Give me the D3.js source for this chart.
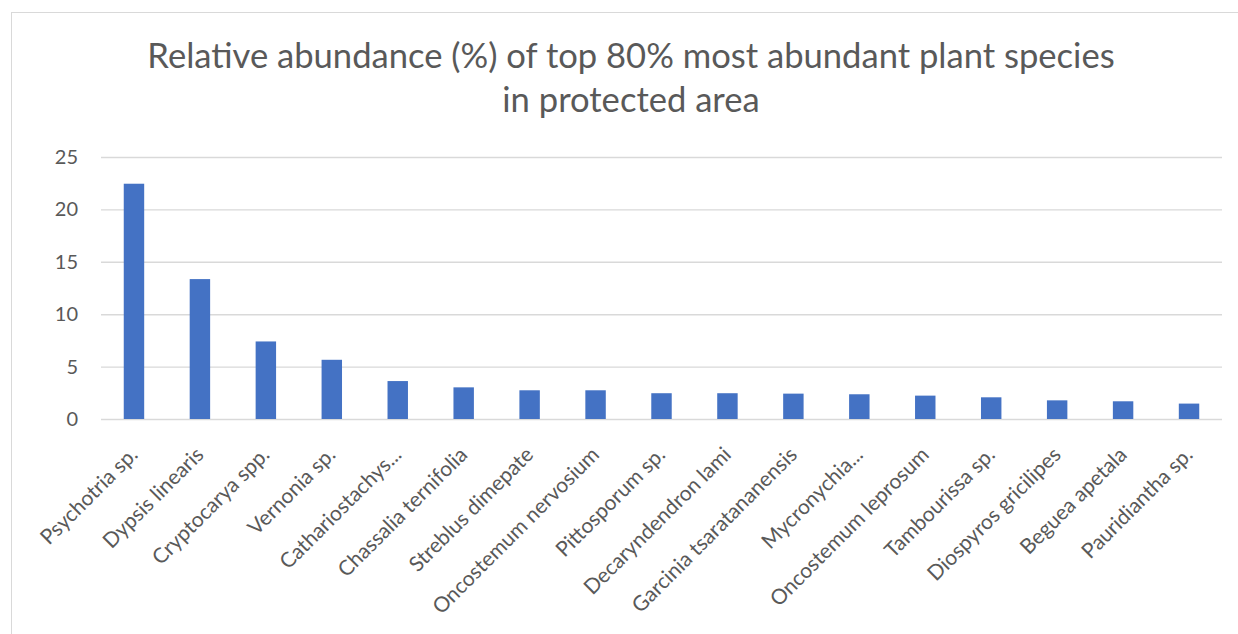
<!DOCTYPE html>
<html>
<head>
<meta charset="utf-8">
<script src="https://cdn.jsdelivr.net/npm/d3@7"></script>
<style>
	body { margin: 0; background: #fff; }
	svg { display: block; font-family: Lato, 'Open Sans', sans-serif; }
</style>
</head>
<body>
<div id="chart"></div>
<script>
/*
*	Chart data
*/
var species = [
	'Psychotria sp.', 'Dypsis linearis', 'Cryptocarya spp.', 'Vernonia sp.',
	'Cathariostachys...', 'Chassalia ternifolia', 'Streblus dimepate',
	'Oncostemum nervosium', 'Pittosporum sp.', 'Decaryndendron lami',
	'Garcinia tsaratananensis', 'Mycronychia...', 'Oncostemum leprosum',
	'Tambourissa sp.', 'Diospyros gricilipes', 'Beguea apetala', 'Pauridiantha sp.'
];
var abundance = [22.45, 13.35, 7.4, 5.65, 3.62, 3.02, 2.74, 2.74, 2.46, 2.46, 2.42, 2.36, 2.23, 2.07, 1.78, 1.69, 1.47];
var yTicks = [0, 5, 10, 15, 20, 25];
var titleLines = ['Relative abundance (%) of top 80% most abundant plant species', 'in protected area'];

/*
*	Drawing
*/
var W = 1238, H = 634;
var plot = { left: 101, right: 1222, top: 157, bottom: 419 };
var font = 'Lato, "Open Sans", sans-serif';

var svg = d3.select('#chart').append('svg')
	.attr('width', W)
	.attr('height', H);

// chart frame, runs off the right and bottom of the picture
svg.append('rect')
	.attr('x', 11.5).attr('y', 12.5)
	.attr('width', W + 20).attr('height', H + 20)
	.attr('fill', '#fff')
	.attr('stroke', '#d9d9d9');

var x = d3.scaleBand()
	.domain(species)
	.range([plot.left, plot.right])
	.paddingInner(0.69)
	.paddingOuter(0.345);

var y = d3.scaleLinear().domain([0, 25]).range([plot.bottom, plot.top]);

// title, sized so the first line spans like the original
var title = svg.append('text')
	.attr('text-anchor', 'middle')
	.attr('fill', '#595959')
	.style('font-size', '30px');
title.selectAll('tspan')
	.data(titleLines)
	.enter().append('tspan')
	.attr('x', 631)
	.attr('y', function (d, i) { return 68 + i * 44; })
	.text(function (d) { return d; });
var firstLen = title.select('tspan').node().getComputedTextLength();
title.style('font-size', (30 * 968 / firstLen).toFixed(2) + 'px');

// grid
var yAxis = d3.axisLeft(y).tickValues(yTicks).tickSize(-(plot.right - plot.left));
var gy = svg.append('g')
	.attr('transform', 'translate(' + plot.left + ',0)')
	.call(yAxis)
	.attr('font-family', font);
gy.select('.domain').remove();
gy.selectAll('.tick line').attr('stroke', '#d9d9d9').attr('stroke-width', 1.4);
gy.selectAll('.tick text')
	.attr('fill', '#595959')
	.style('font-size', '20px')
	.attr('text-anchor', 'end')
	.attr('x', -23);

// bars
svg.append('g').selectAll('rect')
	.data(abundance)
	.enter().append('rect')
	.attr('x', function (d, i) { return x(species[i]); })
	.attr('y', function (d) { return y(d); })
	.attr('width', x.bandwidth())
	.attr('height', function (d) { return y(0) - y(d); })
	.attr('fill', '#4472c4');

// category axis
var xAxis = d3.axisBottom(x).tickSize(0).tickPadding(0);
var gx = svg.append('g')
	.attr('transform', 'translate(0,' + plot.bottom + ')')
	.call(xAxis)
	.attr('font-family', font);
gx.select('.domain').remove();
gx.selectAll('.tick text')
	.attr('fill', '#595959')
	.style('font-size', '21px')
	.attr('text-anchor', 'end')
	.attr('dy', 0)
	.attr('transform', 'translate(5,37) rotate(-45)');
</script>
</body>
</html>
